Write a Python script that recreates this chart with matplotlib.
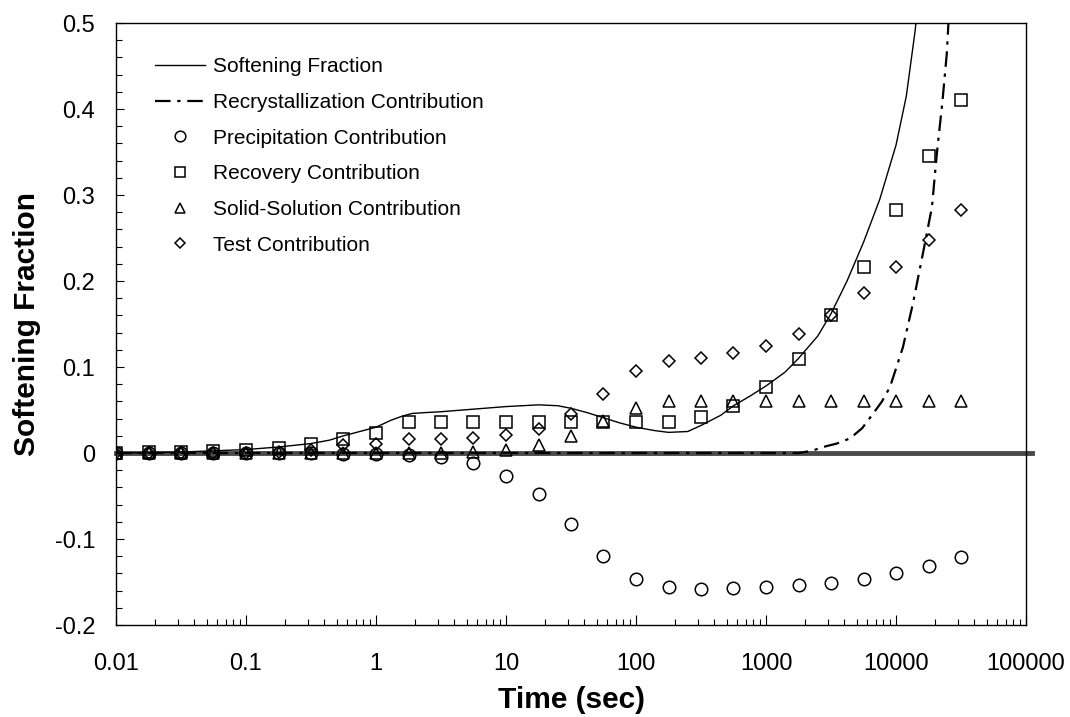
import numpy as np
import matplotlib
matplotlib.use('Agg')
import matplotlib.pyplot as plt
from matplotlib.ticker import FixedLocator, LogLocator, MultipleLocator, NullFormatter

plt.rcParams['font.family'] = ['Liberation Sans', 'DejaVu Sans']
plt.rcParams['axes.unicode_minus'] = False


### Data ###

# quarter-decade sample times (sec)
times = [0.01, 0.0178, 0.0316, 0.0562, 0.1, 0.178, 0.316, 0.562, 1, 1.78, 3.16, 5.62,
         10, 17.8, 31.6, 56.2, 100, 178, 316, 562, 1000, 1778, 3162, 5623,
         10000, 17783, 31623]

precipitation = [0, 0, 0, 0, 0, 0, 0, -0.001, -0.001, -0.002, -0.005, -0.012,
                 -0.027, -0.048, -0.083, -0.120, -0.147, -0.156, -0.158, -0.157, -0.156, -0.154, -0.151, -0.147,
                 -0.139, -0.131, -0.121]

recovery = [0, 0.001, 0.001, 0.002, 0.004, 0.006, 0.010, 0.016, 0.023, 0.036, 0.036, 0.036,
            0.036, 0.036, 0.036, 0.036, 0.036, 0.036, 0.042, 0.055, 0.077, 0.109, 0.161, 0.216,
            0.282, 0.345, 0.410]

solid_solution = [0, 0, 0, 0, 0, 0, 0, 0, 0, 0, 0, 0.001,
                  0.003, 0.009, 0.020, 0.037, 0.052, 0.060, 0.060, 0.060, 0.060, 0.060, 0.060, 0.060,
                  0.060, 0.060, 0.060]

test = [0, 0, 0, 0, 0, 0.001, 0.003, 0.009, 0.011, 0.016, 0.016, 0.018,
        0.021, 0.028, 0.045, 0.069, 0.095, 0.107, 0.110, 0.116, 0.125, 0.138, 0.161, 0.186,
        0.216, 0.248, 0.282]

# softening fraction curve
t_soft = [0.01, 0.03, 0.1, 0.178, 0.316, 0.44, 0.562, 0.75, 1, 1.3, 1.6, 1.9, 2.4, 3.16, 5.62, 10, 17.8, 25,
          31.6, 42, 56.2, 75, 100, 140, 178, 250, 316, 450, 562, 750, 1000, 1400, 1778,
          2500, 3162, 4200, 5623, 7500, 10000, 12000, 14000, 15000]
softening = [0, 0.001, 0.004, 0.007, 0.011, 0.015, 0.020, 0.025, 0.030, 0.038, 0.043, 0.046, 0.047, 0.048,
             0.051, 0.054, 0.056, 0.055,
             0.052, 0.047, 0.041, 0.035, 0.030, 0.026, 0.024, 0.025, 0.032, 0.044, 0.055, 0.066, 0.078, 0.094, 0.110,
             0.136, 0.162, 0.200, 0.245, 0.295, 0.358, 0.415, 0.49, 0.53]

# recrystallization contribution
t_rex = [0.01, 1800, 2300, 2750, 3500, 4430, 5500, 6680, 7800, 9000, 11300, 13500, 16100, 18900,
         20600, 22700, 24600, 25500]
recrystallization = [0, 0, 0.003, 0.007, 0.011, 0.017, 0.029, 0.046, 0.060, 0.077, 0.123, 0.174, 0.232, 0.286,
                     0.348, 0.407, 0.465, 0.51]

x_ticks = [0.01, 0.1, 1, 10, 100, 1000, 10000, 100000]
x_ticklabels = ['0.01', '0.1', '1', '10', '100', '1000', '10000', '100000']
y_ticks = [-0.2, -0.1, 0, 0.1, 0.2, 0.3, 0.4, 0.5]
y_ticklabels = ['-0.2', '-0.1', '0', '0.1', '0.2', '0.3', '0.4', '0.5']


fig = plt.figure(figsize=(10.7, 7.17), dpi=100)
ax = fig.add_axes([0.1084, 0.1283, 0.8505, 0.8396])

# thick zero line, runs a little past the right frame
ax.axhline(0, xmin=0, xmax=1.007, color='#4a4a4a', lw=3.5, zorder=1, clip_on=False)

ax.plot(t_soft, softening, color='black', lw=1.0, label='Softening Fraction', zorder=3)
ax.plot(t_rex, recrystallization, color='black', lw=1.6, linestyle=(0, (7, 3, 1.5, 3)),
        label='Recrystallization Contribution', zorder=3)

mk = dict(linestyle='', markerfacecolor='none', markeredgecolor='black', markeredgewidth=1.1, zorder=4)
ax.plot(times, precipitation, marker='o', markersize=9, label='Precipitation Contribution', **mk)
ax.plot(times, recovery, marker='s', markersize=9, label='Recovery Contribution', **mk)
ax.plot(times, solid_solution, marker='^', markersize=8.5, label='Solid-Solution Contribution', **mk)
ax.plot(times, test, marker='D', markersize=6.2, label='Test Contribution', **mk)

ax.set_xscale('log')
ax.set_xlim(0.01, 100000)
ax.set_ylim(-0.2, 0.5)

ax.xaxis.set_major_locator(FixedLocator(x_ticks))
ax.set_xticklabels(x_ticklabels)
ax.xaxis.set_minor_locator(LogLocator(base=10, subs=np.arange(2, 10)))
ax.xaxis.set_minor_formatter(NullFormatter())
ax.yaxis.set_major_locator(FixedLocator(y_ticks))
ax.set_yticklabels(y_ticklabels)
ax.yaxis.set_minor_locator(MultipleLocator(0.02))

ax.tick_params(which='both', direction='in', top=False, right=False, labelsize=17, width=0.8)
ax.tick_params(axis='y', which='major', length=6, pad=15)
ax.tick_params(axis='x', which='major', length=7, pad=20)
ax.tick_params(which='minor', length=4)

for s in ax.spines.values():
    s.set_linewidth(1.0)

ax.set_xlabel('Time (sec)', fontsize=21.5, fontweight='bold', labelpad=8)
ax.set_ylabel('Softening Fraction', fontsize=21.5, fontweight='bold', labelpad=10)

ax.legend(loc='upper left', bbox_to_anchor=(0.043, 0.943), frameon=False, fontsize=15,
          borderpad=0, borderaxespad=0, handlelength=2.4, handletextpad=0.4,
          labelspacing=0.8, markerscale=0.85)

plt.savefig('out.png', dpi=100)
